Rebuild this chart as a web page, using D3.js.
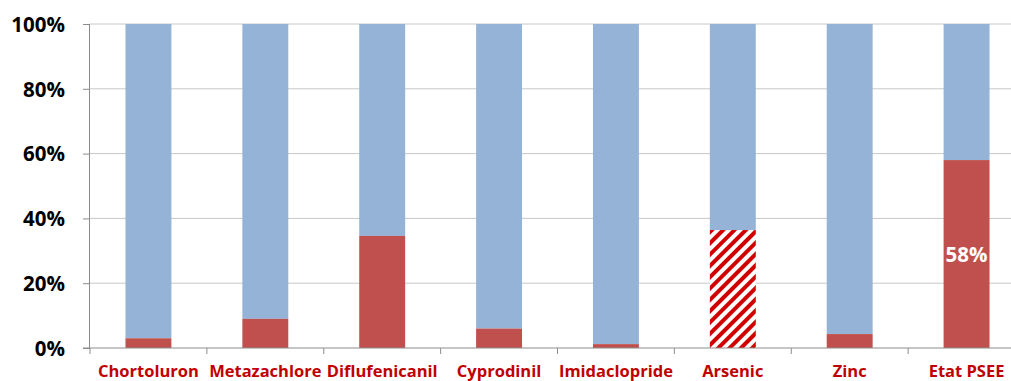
<!DOCTYPE html>
<html>
<head>
<meta charset="utf-8">
<script src="https://cdn.jsdelivr.net/npm/d3@7/dist/d3.min.js"></script>
<style>
  html, body { margin: 0; padding: 0; background: #fff; overflow: hidden; }
  svg { display: block; }
</style>
</head>
<body>
<svg id="chart" width="1011" height="381"></svg>
<script>
// Substances and their share (%) of stations exceeding the threshold
const categories = ["Chortoluron", "Metazachlore", "Diflufenicanil", "Cyprodinil", "Imidaclopride", "Arsenic", "Zinc", "Etat PSEE"];
const exceedShare = [3, 9, 34.6, 6, 1.2, 36.4, 4.3, 58];
// Categories drawn with a hatched fill instead of a solid one
const hatched = ["Arsenic"];
// Categories whose share is printed inside the bar
const labelled = ["Etat PSEE"];
const yTicks = [0, 20, 40, 60, 80, 100];

const svg = d3.select("#chart");
const margin = { left: 90, top: 24, bottom: 33 };
const plotW = 935;
const plotH = 381 - margin.top - margin.bottom;

const x = d3.scaleBand().domain(categories).range([margin.left, margin.left + plotW]).paddingInner(0.607).paddingOuter(0.3035);
const xTicks = d3.scaleBand().domain(categories).range([margin.left, margin.left + plotW]);
const y = d3.scaleLinear().domain([0, 100]).range([margin.top + plotH, margin.top]);

// Diagonal stripe pattern
const defs = svg.append("defs");
const pat = defs.append("pattern")
  .attr("id", "stripes")
  .attr("patternUnits", "userSpaceOnUse")
  .attr("width", 8).attr("height", 8)
  .attr("patternTransform", "rotate(45)");
pat.append("rect").attr("width", 8).attr("height", 8).attr("fill", "#fff");
pat.append("rect").attr("width", 4).attr("height", 8).attr("fill", "#d00000");

// Horizontal gridlines
svg.append("g")
  .selectAll("line")
  .data(yTicks.filter(d => d > 0))
  .join("line")
  .attr("x1", margin.left).attr("x2", margin.left + plotW)
  .attr("y1", d => y(d)).attr("y2", d => y(d))
  .attr("stroke", "#c8c8c8").attr("stroke-width", 1);

// Remaining share (blue) from the top down to the exceedance value
svg.append("g")
  .selectAll("rect")
  .data(categories)
  .join("rect")
  .attr("x", d => x(d))
  .attr("width", x.bandwidth())
  .attr("y", y(100))
  .attr("height", (d, i) => y(exceedShare[i]) - y(100))
  .attr("fill", "#95b3d7");

// Exceedance share (red)
svg.append("g")
  .selectAll("rect")
  .data(categories)
  .join("rect")
  .attr("x", d => x(d))
  .attr("width", x.bandwidth())
  .attr("y", (d, i) => y(exceedShare[i]))
  .attr("height", (d, i) => y(0) - y(exceedShare[i]))
  .attr("fill", d => hatched.includes(d) ? "url(#stripes)" : "#c0504d");

// Value labels inside bars
svg.append("g")
  .selectAll("text")
  .data(categories.filter(d => labelled.includes(d)))
  .join("text")
  .attr("x", d => x(d) + x.bandwidth() / 2)
  .attr("y", d => y(exceedShare[categories.indexOf(d)] / 2) + 8)
  .attr("text-anchor", "middle")
  .attr("font-family", "'Open Sans', sans-serif")
  .attr("font-weight", "bold")
  .attr("font-size", 20.5)
  .attr("fill", "#fff")
  .text(d => Math.round(exceedShare[categories.indexOf(d)]) + "%");

// Y axis
const yAxis = svg.append("g")
  .attr("transform", `translate(${margin.left},0)`)
  .call(d3.axisLeft(y).tickValues(yTicks).tickFormat(d => d + "%").tickSize(7).tickPadding(18));
yAxis.select(".domain").attr("stroke", "#8c8c8c").attr("d", `M-0.5,${y(100)}V${y(0)}`);
yAxis.selectAll(".tick line").attr("stroke", "#8c8c8c");
yAxis.selectAll(".tick text")
  .attr("font-family", "'Open Sans', sans-serif")
  .attr("font-weight", "bold")
  .attr("font-size", 20.5)
  .attr("fill", "#000")
  .attr("dy", "0.36em");

// X axis baseline and category ticks
const xg = svg.append("g");
xg.append("line")
  .attr("x1", margin.left - 7).attr("x2", margin.left + plotW)
  .attr("y1", y(0)).attr("y2", y(0))
  .attr("stroke", "#8c8c8c");
xg.selectAll("line.tick")
  .data(categories)
  .join("line")
  .attr("class", "tick")
  .attr("x1", d => xTicks(d)).attr("x2", d => xTicks(d))
  .attr("y1", y(0)).attr("y2", y(0) + 6)
  .attr("stroke", "#8c8c8c");
xg.selectAll("text")
  .data(categories)
  .join("text")
  .attr("x", d => x(d) + x.bandwidth() / 2)
  .attr("y", y(0) + 29)
  .attr("text-anchor", "middle")
  .attr("font-family", "'Open Sans', sans-serif")
  .attr("font-weight", "bold")
  .attr("font-size", 16.5)
  .attr("fill", "#c00000")
  .text(d => d);
</script>
</body>
</html>
